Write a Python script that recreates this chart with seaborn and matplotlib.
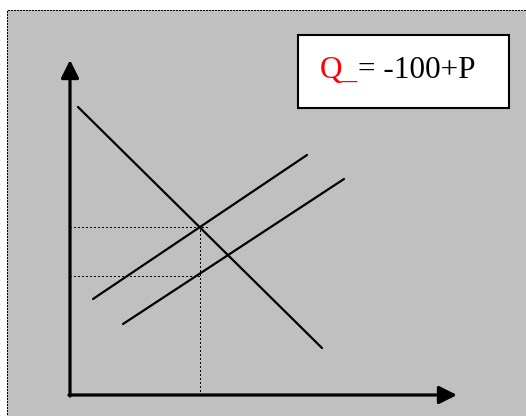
import numpy as np
import pandas as pd
import matplotlib
matplotlib.use("Agg")
import matplotlib.pyplot as plt
import seaborn as sns
from matplotlib.patches import Rectangle

# Diagram data (units: quantity along x, price along y, origin at the axes corner)
demand_q = [8, 252]
demand_p = [288, 47]
supply1_q = [23, 237]
supply1_p = [96, 240]
supply2_q = [53, 274]
supply2_p = [71, 216]

eq_q = 130          # equilibrium quantity (vertical guide)
eq_p_high = 168     # price where demand meets supply 1
eq_p_low = 119      # price on supply 2 at the same quantity

axis_x_end = 387
axis_y_end = 335

label_red = "Q_"
label_black = "= -100+P"

sns.set_theme(style="white")
plt.rcParams['font.family'] = ['Liberation Serif', 'DejaVu Serif']

fig = plt.figure(figsize=(5.26, 4.16), dpi=100)
fig.patch.set_facecolor("white")
ax = fig.add_axes([0, 0, 1, 1])
ax.set_xlim(-70, 456)
ax.set_ylim(-21, 395)
ax.axis("off")

# gray panel with dotted outline
ax.add_patch(Rectangle((-63.5, -30), 620, 415.5, facecolor="#c0c0c0",
                       edgecolor="black", lw=0.75, linestyle=(0, (1, 1)),
                       antialiased=False, zorder=0))

lines = pd.concat([
    pd.DataFrame({"q": demand_q, "p": demand_p, "curve": "D"}),
    pd.DataFrame({"q": supply1_q, "p": supply1_p, "curve": "S1"}),
    pd.DataFrame({"q": supply2_q, "p": supply2_p, "curve": "S2"}),
])
sns.lineplot(data=lines, x="q", y="p", units="curve", estimator=None,
             color="black", lw=1.6, ax=ax, zorder=3)

# dotted guides
guide_kw = dict(color="black", lw=0.75, linestyle=(0, (1, 2)),
                antialiased=False, zorder=2)
ax.plot([0, eq_q + 7], [eq_p_high, eq_p_high], **guide_kw)
ax.plot([0, eq_q], [eq_p_low, eq_p_low], **guide_kw)
ax.plot([eq_q, eq_q], [0, eq_p_high], **guide_kw)

# axes with arrow heads
arrow = dict(arrowstyle="-|>,head_length=1.0,head_width=0.5",
             mutation_scale=10.8, lw=2.3, color="black",
             shrinkA=0, shrinkB=0)
ax.annotate("", xy=(0, axis_y_end), xytext=(0, -1), arrowprops=arrow, zorder=4)
ax.annotate("", xy=(axis_x_end, 0), xytext=(-1, 0), arrowprops=arrow, zorder=4)

# equation box
ax.add_patch(Rectangle((228, 287), 211, 73, facecolor="white",
                       edgecolor="black", lw=1.5, zorder=5))
t1 = ax.text(250, 317, label_red, color="red", fontsize=22.5,
             va="baseline", ha="left", zorder=6)
ax.annotate(label_black, xy=(1, 0), xycoords=t1, va="bottom", ha="left",
            color="black", fontsize=22.5, zorder=6)

fig.savefig("out.png", dpi=100)
